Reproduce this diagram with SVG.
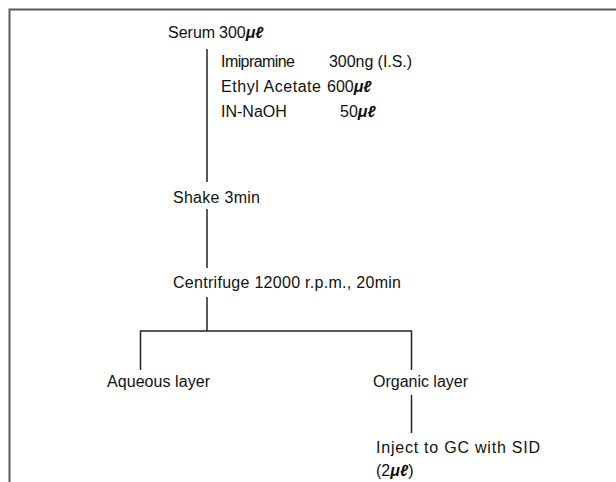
<svg xmlns="http://www.w3.org/2000/svg" width="616" height="482" viewBox="0 0 616 482">
<style>
text{font-family:"Liberation Sans",Arial,sans-serif;font-size:16px;fill:#111}
.u{font-style:italic;font-weight:bold}
.ln{stroke:#222;stroke-width:1.5;fill:none}
.fr{stroke:#5a5a5a;stroke-width:2;fill:none}
</style>
<rect width="616" height="482" fill="#fff"/>
<path class="fr" d="M9.5,482 V9.5 H616"/>
<g id="connectors">
<path class="ln" d="M207,49 V182"/>
<path class="ln" d="M207,209 V268"/>
<path class="ln" d="M207,297 V331"/>
<path class="ln" d="M140.5,370 V331 H411.5 V370"/>
<path class="ln" d="M411.5,395 V433"/>
</g>
<g id="serum"><text x="168" y="38">Serum</text><text x="219" y="38">300<tspan class="u">μℓ</tspan></text></g>
<g id="reagents">
<text x="221" y="67" textLength="74" lengthAdjust="spacing">Imipramine</text><text x="329" y="67" textLength="83" lengthAdjust="spacing">300ng (I.S.)</text>
<text x="221" y="92" textLength="100" lengthAdjust="spacing">Ethyl Acetate</text><text x="327" y="92">600<tspan class="u">μℓ</tspan></text>
<text x="221" y="117">IN-NaOH</text><text x="340" y="117">50<tspan class="u">μℓ</tspan></text>
</g>
<g id="shake"><text x="173" y="203" textLength="87" lengthAdjust="spacing">Shake 3min</text></g>
<g id="centrifuge"><text x="173" y="288" textLength="228" lengthAdjust="spacing">Centrifuge 12000 r.p.m., 20min</text></g>
<g id="aqueous"><text x="107" y="387" textLength="103" lengthAdjust="spacing">Aqueous layer</text></g>
<g id="organic"><text x="373" y="387" textLength="95" lengthAdjust="spacing">Organic layer</text></g>
<g id="inject"><text x="376" y="453" textLength="164" lengthAdjust="spacing">Inject to GC with SID</text><text x="376" y="476">(2<tspan class="u">μℓ</tspan>)</text></g>
</svg>
